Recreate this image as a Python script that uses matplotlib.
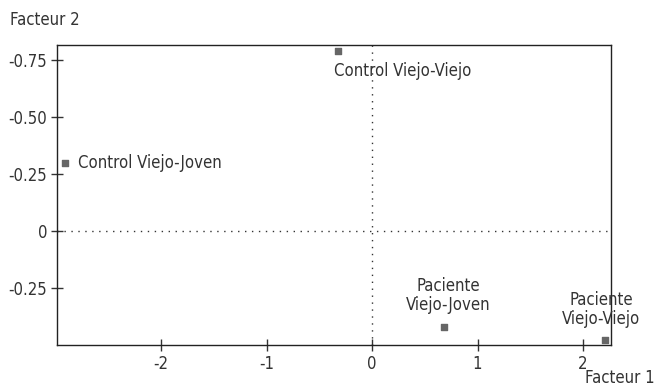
import matplotlib.pyplot as plt

## Data:
groups = ['Control Viejo-Viejo', 'Control Viejo-Joven', 'Paciente\nViejo-Joven', 'Paciente\nViejo-Viejo']
factor1 = [-0.32, -2.91, 0.68, 2.21]
factor2 = [0.79, 0.30, -0.42, -0.48]
x_ticks = [-2, -1, 0, 1, 2]
y_ticks = [0.75, 0.50, 0.25, 0, -0.25]
y_tick_labels = ['-0.75', '-0.50', '-0.25', '0', '-0.25']

## Font: condensed sans
plt.rcParams['font.family'] = ['DejaVu Sans']
plt.rcParams['font.stretch'] = 'condensed'
plt.rcParams['font.size'] = 12

fig = plt.figure(figsize=(6.58, 3.87), dpi=100)
ax = fig.add_axes([0.0866, 0.1085, 0.842, 0.7752])

ax.scatter(factor1, factor2, marker='s', s=22, color='#666666', zorder=3)
ax.axhline(0, color='#333333', linestyle=(0, (1, 4)), linewidth=1)
ax.axvline(0, color='#333333', linestyle=(0, (1, 4)), linewidth=1)

## Point labels
offsets = [(-3, -8), (9, 0), (3, 9), (-3, 9)]
aligns = [('left', 'top'), ('left', 'center'), ('center', 'bottom'), ('center', 'bottom')]
for name, x, y, off, (ha, va) in zip(groups, factor1, factor2, offsets, aligns):
    ax.annotate(name, (x, y), xytext=off, textcoords='offset points',
                ha=ha, va=va, color='#333333', linespacing=1.1)

ax.set_xlim(-2.986, 2.265)
ax.set_ylim(-0.50, 0.816)
ax.set_xticks(x_ticks)
ax.set_xticklabels([str(t) for t in x_ticks])
ax.set_yticks(y_ticks)
ax.set_yticklabels(y_tick_labels)
ax.tick_params(direction='inout', length=8, width=1, colors='#333333', labelcolor='#333333', pad=3)
for s in ax.spines.values():
    s.set_color('#222222')
    s.set_linewidth(1)

fig.text(10 / 658, 1 - 20 / 387, 'Facteur 2', ha='left', va='center', color='#333333')
fig.text(655 / 658, 1 - 378 / 387, 'Facteur 1', ha='right', va='center', color='#333333')

plt.savefig('out.png', dpi=100)
